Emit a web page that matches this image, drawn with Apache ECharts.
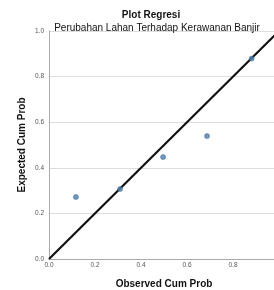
<!DOCTYPE html>
<html>
<head>
<meta charset="UTF-8">
<script src="https://cdn.jsdelivr.net/npm/echarts@6/dist/echarts.min.js"></script>
<style>html,body{margin:0;padding:0;background:#fff}</style>
</head>
<body>
<div id="main" style="width:274px;height:290px"></div>
<script type="text/javascript">
// observed vs expected cumulative probability
var observed = [0.117, 0.309, 0.496, 0.687, 0.881];
var expected = [0.272, 0.307, 0.447, 0.539, 0.879];
var refLine = [[0, 0], [1, 1]];
var tickValues = [0, 0.2, 0.4, 0.6, 0.8, 1.0];

var chart = echarts.init(document.getElementById('main'));

var points = observed.map(function (x, i) { return [x, expected[i]]; });

var tickLabel = {
    fontSize: 6.5,
    color: '#555',
    fontFamily: 'Liberation Sans',
    formatter: function (v) { return v.toFixed(1); }
};

var option = {
    animation: false,
    title: [
        {
            text: 'Plot Regresi',
            left: 146, top: 5, textAlign: 'center',
            textStyle: { fontSize: 10, fontWeight: 'bold', color: '#111', fontFamily: 'Liberation Sans' }
        },
        {
            text: 'Perubahan Lahan Terhadap Kerawanan Banjir',
            left: 152, top: 18, textAlign: 'center',
            textStyle: { fontSize: 10, fontWeight: 'normal', color: '#111', fontFamily: 'Liberation Sans' }
        }
    ],
    grid: { left: 49, top: 31, width: 230, height: 228, outerBoundsMode: 'none', containLabel: false },
    xAxis: {
        type: 'value', min: 0, max: 1, interval: 0.2,
        name: 'Observed Cum Prob', nameLocation: 'middle', nameGap: 20, nameMoveOverlap: false,
        nameTextStyle: { fontSize: 10, fontWeight: 'bold', color: '#111', fontFamily: 'Liberation Sans' },
        axisLine: { show: true, lineStyle: { color: '#aaa' } },
        axisTick: { show: false },
        splitLine: { show: false },
        axisLabel: Object.assign({ margin: 3 }, tickLabel)
    },
    yAxis: {
        type: 'value', min: 0, max: 1, interval: 0.2,
        name: 'Expected Cum Prob', nameLocation: 'middle', nameGap: 22, nameMoveOverlap: false,
        nameTextStyle: { fontSize: 10, fontWeight: 'bold', color: '#111', fontFamily: 'Liberation Sans' },
        axisLine: { show: true, lineStyle: { color: '#aaa' } },
        axisTick: { show: false },
        splitLine: { show: true, lineStyle: { color: '#ddd' } },
        axisLabel: Object.assign({ margin: 5 }, tickLabel)
    },
    series: [
        {
            type: 'line',
            data: refLine,
            symbol: 'none',
            lineStyle: { color: '#111', width: 2.2 },
            z: 3
        },
        {
            type: 'scatter',
            data: points,
            symbolSize: 5,
            itemStyle: { color: '#4c80ad', borderColor: '#2f5f8a', borderWidth: 0.6 },
            z: 4
        }
    ]
};

option && chart.setOption(option);
</script>
</body>
</html>
